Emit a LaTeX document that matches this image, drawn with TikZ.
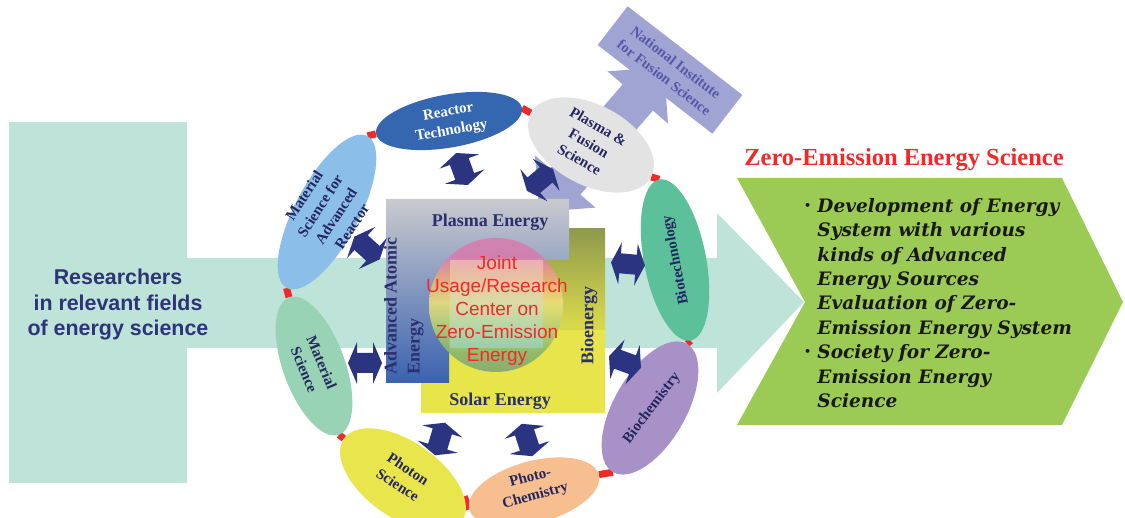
\documentclass[tikz,border=0pt]{standalone}
\usepackage{fontspec}
\usepackage{graphicx}
\newfontfamily\tnr{Liberation Serif}
\newfontfamily\arialf{Liberation Sans}
\newfontfamily\dvs{DejaVu Serif}
\usetikzlibrary{shapes.geometric}
\pgfdeclarelayer{bg}
\pgfdeclarelayer{links}
\pgfsetlayers{bg,links,main}
\definecolor{tealc}{HTML}{BEE3D8}
\definecolor{greenc}{HTML}{9BCB54}
\definecolor{rtc}{HTML}{3567B1}
\definecolor{msarc}{HTML}{8BBEE8}
\definecolor{msc}{HTML}{98D3B6}
\definecolor{psc}{HTML}{E9E54C}
\definecolor{pcc}{HTML}{F7BE90}
\definecolor{bcc}{HTML}{A791C6}
\definecolor{btc}{HTML}{5CC09B}
\definecolor{pfc}{HTML}{E3E3E3}
\definecolor{lavc}{HTML}{A0A4D3}
\definecolor{redc}{HTML}{EE2A2A}
\definecolor{navyc}{HTML}{2B3480}
\definecolor{navyt}{HTML}{2E3478}
\definecolor{labc}{HTML}{24275F}
\definecolor{boxt}{HTML}{2B2F6E}
\definecolor{nifst}{HTML}{5558A8}
\definecolor{greyc}{HTML}{CACACE}
\definecolor{bluec}{HTML}{3A62B0}
\definecolor{olivec}{HTML}{8E9A4E}
\definecolor{yelc}{HTML}{E8E54A}
\definecolor{cbot}{HTML}{7FA27C}
\definecolor{cgreen}{HTML}{86B46E}
\definecolor{clgreen}{HTML}{B4D272}
\definecolor{cyel}{HTML}{EEE07A}
\definecolor{corange}{HTML}{F0A878}
\definecolor{cpink}{HTML}{D87CAE}
\definecolor{ovtop}{HTML}{FFD8C8}
\definecolor{ovbot}{HTML}{9ADCEA}
\pgfdeclareverticalshading{rainbowc}{100bp}{color(0bp)=(cbot); color(25bp)=(cbot); color(32bp)=(cgreen); color(42bp)=(clgreen); color(51bp)=(cyel); color(60bp)=(corange); color(68bp)=(cpink); color(75bp)=(cpink); color(100bp)=(cpink)}
\tikzset{
  ell/.style={ellipse, inner sep=0pt},
  lbl/.style={font=\tnr\bfseries\fontsize{15}{19}\selectfont, text=labc, align=center, inner sep=0pt},
  boxlbl/.style={font=\tnr\bfseries\fontsize{18}{23}\selectfont, text=boxt, inner sep=0pt},
  rlink/.style={draw=redc, line width=7pt},
  dblarr/.pic={\fill[navyc] (-17,0) -- (-8,21) -- (-8,10) -- (8,10) -- (8,21) -- (17,0) -- (8,-21) -- (8,-10) -- (-8,-10) -- (-8,-21) -- cycle;},
  lavarr/.pic={\fill[lavc] (-95.5,0) -- (-55.5,40) -- (-55.5,20) -- (55.5,20) -- (55.5,40) -- (95.5,0) -- (55.5,-40) -- (55.5,-20) -- (-55.5,-20) -- (-55.5,-40) -- cycle;}
}
\newcommand{\bdot}{\raisebox{3pt}{\scalebox{0.6}{\textbullet}}\,\,}
\newcommand{\bind}{\hphantom{\scalebox{0.6}{\textbullet}\,\,}}
\begin{document}
\begin{tikzpicture}[x=1pt,y=-1pt]
\useasboundingbox (0,0) rectangle (1125,518);
\clip (0,0) rectangle (1125,518);
\begin{pgfonlayer}{bg}
\fill[tealc] (9,122) rectangle (187,483);
\fill[tealc] (186,258) -- (717,258) -- (717,213) -- (804,302) -- (717,393) -- (717,348) -- (186,348) -- cycle;
\fill[greenc] (737,178) -- (1062,178) -- (1123,302) -- (1062,425) -- (737,425) -- (805,302) -- cycle;
\end{pgfonlayer}
% lavender double arrow to NIFS
\pic[rotate=49.2] (lav) at (601.5,139.5) {lavarr};
% central boxes
\shade[top color=olivec, bottom color=yelc, middle color=yelc!80!olivec] (421,229) rectangle (605,413);
\fill[yelc] (421,330) rectangle (605,413);
\shade[top color=greyc, bottom color=bluec] (386,199) -- (569,199) -- (569,260) -- (449,260) -- (449,383) -- (386,383) -- cycle;
\shade[shading=rainbowc, opacity=0.88] (496,305) circle (67);
\shade[top color=ovtop, bottom color=ovbot, opacity=0.5] (450,261) rectangle (543,348);
\node[font=\arialf\fontsize{19}{23}\selectfont, text=redc, align=center, inner sep=0pt] (joint) at (497,311) {Joint\\Usage/Research\\Center on\\Zero-Emission\\Energy};
\node[boxlbl] (pe) at (490,222) {Plasma Energy};
\node[boxlbl] (se) at (500,401) {Solar Energy};
\node[boxlbl, rotate=90] (bio) at (589,326) {Bioenergy};
\node[boxlbl, rotate=90, align=left, anchor=north west] (aae) at (384,375) {Advanced Atomic\\Energy};
% ellipses
\node[ell, fill=rtc, minimum width=148pt, minimum height=53pt, rotate=10] (rt) at (449,121) {};
\node[ell, fill=pfc, minimum width=136pt, minimum height=80pt, rotate=-28] (pf) at (591,145) {};
\node[ell, fill=btc, minimum width=164pt, minimum height=62pt, rotate=101] (bt) at (675,260) {};
\node[ell, fill=bcc, minimum width=148pt, minimum height=72pt, rotate=60] (bc) at (650,408) {};
\node[ell, fill=pcc, minimum width=134pt, minimum height=62pt, rotate=15] (pc) at (534,492) {};
\node[ell, fill=psc, minimum width=144pt, minimum height=76pt, rotate=-35] (ps) at (403,480) {};
\node[ell, fill=msc, minimum width=146pt, minimum height=62pt, rotate=-70] (ms) at (314,366) {};
\node[ell, fill=msarc, minimum width=172pt, minimum height=64pt, rotate=62] (msar) at (327,212) {};
\node[lbl, text=white, rotate=10] (rtl) at (450,122) {Reactor\\Technology};
\node[lbl, rotate=-30] (pfl) at (589,143) {Plasma \&\\Fusion\\Science};
\node[lbl, rotate=101] (btl) at (676,260) {Biotechnology};
\node[lbl, rotate=53] (bcl) at (652,408) {Biochemistry};
\node[lbl, rotate=15] (pcl) at (533,487) {Photo-\\Chemistry};
\node[lbl, rotate=-33] (psl) at (403,477) {Photon\\Science};
\node[lbl, rotate=-67] (msl) at (313,366) {Material\\Science};
\node[lbl, rotate=57] (msarl) at (328,211) {Material\\Science for\\Advanced\\Reactor};
\begin{pgfonlayer}{links}
\draw[rlink] (rt.east) -- (pf.west);
\draw[rlink] (msar.east) -- (rt.west);
\draw[rlink] (msar.west) -- (ms.west);
\draw[rlink] (ms.east) -- (ps.west);
\draw[rlink] (ps.20) -- (pc.west);
\draw[rlink] (pc.east) -- (bc.west);
\draw[rlink] (bc.east) -- (bt.west);
\draw[rlink] (bt.east) -- (pf.east);
\end{pgfonlayer}
% navy double arrows
\pic[rotate=110] (a1) at (462,169) {dblarr};
\pic[rotate=40] (a2) at (540,180) {dblarr};
\pic[rotate=138] (a3) at (367,248) {dblarr};
\pic[rotate=-5] (a4) at (628,264) {dblarr};
\pic[rotate=-20] (a5) at (625,362) {dblarr};
\pic[rotate=0] (a6) at (365,363) {dblarr};
\pic[rotate=73] (a7) at (440,439) {dblarr};
\pic[rotate=108] (a8) at (527,440) {dblarr};
% NIFS box
\node[fill=lavc, minimum width=145pt, minimum height=49pt, rotate=-37.7, font=\tnr\bfseries\fontsize{14.5}{19}\selectfont, text=nifst, align=center] (nifs) at (670,70) {National Institute\\for Fusion Science};
% left text
\node[font=\arialf\bfseries\fontsize{21.4}{25.5}\selectfont, text=navyt, align=center] (res) at (118,305) {Researchers\\in relevant fields\\of energy science};
% right
\node[font=\tnr\bfseries\fontsize{24.5}{28}\selectfont, text=redc] (zees) at (904,160) {Zero-Emission Energy Science};
\node[font=\dvs\bfseries\itshape\fontsize{18.5}{24.4}\selectfont, text=black!90, align=left, anchor=north west, inner sep=0pt] (bul) at (804,198) {\bdot Development of Energy\\\bind System with various\\\bind kinds of Advanced\\\bind Energy Sources\\\bind Evaluation of Zero-\\\bind Emission Energy System\\\bdot Society for Zero-\\\bind Emission Energy\\\bind Science};
\end{tikzpicture}
\end{document}
